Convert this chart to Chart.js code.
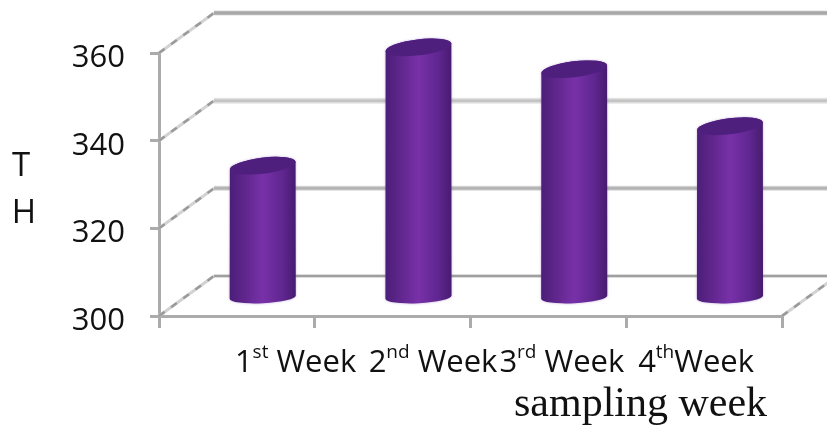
<!DOCTYPE html>
<html>
<head>
<meta charset="utf-8">
<style>
  html, body { margin: 0; padding: 0; background: #fff; }
  #wrap { width: 827px; height: 431px; }
</style>
<script src="https://cdn.jsdelivr.net/npm/chart.js@4"></script>
</head>
<body>
<div id="wrap"><canvas id="c" width="827" height="431"></canvas></div>
<script>
const categories = ['1st Week', '2nd Week', '3rd Week', '4thWeek'];
const thValues = [330, 357, 352, 339];
const yTicks = [300, 320, 340, 360];
const yAxisLetters = ['T', 'H'];
const xAxisTitle = 'sampling week';

// Pseudo-3D box: how far the back wall sits behind the front axes.
const DEPTH_X = 55, DEPTH_Y = -40;
const GRID = '#ababab';
const SANS = '"Open Sans", sans-serif';

const wallPlugin = {
  id: 'wall',
  beforeDatasetsDraw(chart) {
    const { ctx, scales: { y }, chartArea: a } = chart;
    const styles = [
      { core: '#9f9f9f', w: 2.5, halo: '#e4e4e4', hw: 3 },
      { core: '#b4b4b4', w: 3, halo: '#dcdcdc', hw: 5 },
      { core: '#c4c4c4', w: 3, halo: '#e4e4e4', hw: 6 },
      { core: '#a8a8a8', w: 3.5, halo: '#dedede', hw: 5 }
    ];
    const diagonal = (x0, y0) => {
      ctx.beginPath();
      ctx.moveTo(x0, y0);
      ctx.lineTo(x0 + DEPTH_X, y0 + DEPTH_Y);
      ctx.setLineDash([]);
      ctx.lineWidth = 3;
      ctx.strokeStyle = '#d2d2d2';
      ctx.stroke();
      ctx.setLineDash([7, 8]);
      ctx.lineWidth = 2.5;
      ctx.strokeStyle = '#9a9a9a';
      ctx.stroke();
      ctx.setLineDash([]);
    };
    ctx.save();
    yTicks.forEach((v, i) => {
      const py = y.getPixelForValue(v);
      const s = styles[i];
      diagonal(a.left, py);
      // horizontal gridline on the back wall
      ctx.beginPath();
      ctx.moveTo(a.left + DEPTH_X, py + DEPTH_Y);
      ctx.lineTo(chart.width, py + DEPTH_Y);
      ctx.strokeStyle = s.halo;
      ctx.lineWidth = s.hw;
      ctx.stroke();
      ctx.strokeStyle = s.core;
      ctx.lineWidth = s.w;
      ctx.stroke();
    });
    // floor edge on the right
    diagonal(a.right, y.getPixelForValue(yTicks[0]));
    ctx.restore();
  }
};

const cylinderPlugin = {
  id: 'cylinder',
  // Bars sit mid-depth and are painted as tilted cylinders.
  beforeDatasetDraw(chart, args) {
    const { ctx, scales: { y: yScale } } = chart;
    const topTilt = -0.12, baseTilt = -0.05, ry = 8;
    args.meta.data.forEach(bar => {
      const { x, y, width } = bar.getProps(['x', 'y', 'width'], true);
      const cx = x + DEPTH_X * 0.47;
      const top = y + DEPTH_Y * 0.47;
      const bot = yScale.bottom + DEPTH_Y * 0.47;
      const rx = width / 2;
      const left = cx - rx;
      const body = ctx.createLinearGradient(left, 0, left + width, 0);
      body.addColorStop(0, '#4b1e78');
      body.addColorStop(0.18, '#5c2488');
      body.addColorStop(0.5, '#7831a8');
      body.addColorStop(0.8, '#5f2690');
      body.addColorStop(1, '#471b6e');
      ctx.save();
      ctx.shadowColor = 'rgba(130,95,180,0.55)';
      ctx.shadowBlur = 2.5;
      ctx.beginPath();
      ctx.ellipse(cx, bot, rx, ry - 2, baseTilt, 0, Math.PI);
      ctx.ellipse(cx, top, rx, ry, topTilt, Math.PI, Math.PI * 2);
      ctx.closePath();
      ctx.fillStyle = body;
      ctx.fill();
      ctx.shadowColor = 'transparent';
      ctx.beginPath();
      ctx.ellipse(cx, top, rx, ry, topTilt, 0, Math.PI * 2);
      ctx.fillStyle = '#4f1f7e';
      ctx.fill();
      ctx.restore();
    });
    return false;
  }
};

const textPlugin = {
  id: 'texts',
  afterDraw(chart) {
    const { ctx, scales: { x, y } } = chart;
    ctx.save();
    ctx.fillStyle = '#111';
    ctx.textBaseline = 'alphabetic';
    ctx.textAlign = 'left';
    // category labels with raised ordinal suffixes
    const shifts = [-2, -24, -49, -66];
    categories.forEach((label, i) => {
      const m = label.match(/^(\d)(st|nd|rd|th)(.*)$/);
      let px = x.getPixelForTick(i) + shifts[i];
      const base = 372;
      ctx.font = '31px ' + SANS;
      ctx.fillText(m[1], px, base);
      px += ctx.measureText(m[1]).width;
      ctx.font = '19px ' + SANS;
      ctx.fillText(m[2], px, base - 14);
      px += ctx.measureText(m[2]).width;
      ctx.font = '31px ' + SANS;
      ctx.fillText(m[3], px, base);
    });
    // value axis numbers, right-aligned beside the ticks
    ctx.font = '31px ' + SANS;
    ctx.textAlign = 'right';
    yTicks.forEach(v => ctx.fillText(String(v), 125, y.getPixelForValue(v) + 14));
    // stacked letters of the value axis name
    ctx.font = '33px ' + SANS;
    ctx.textAlign = 'center';
    ctx.fillText(yAxisLetters[0], 21, 176);
    ctx.fillText(yAxisLetters[1], 24, 223);
    // axis title in a serif face
    ctx.font = '42px "Liberation Serif", serif';
    ctx.textAlign = 'left';
    ctx.fillText(xAxisTitle, 514, 416);
    ctx.restore();
  }
};

new Chart(document.getElementById('c'), {
  type: 'bar',
  data: {
    labels: categories,
    datasets: [{
      label: 'TH',
      data: thValues,
      backgroundColor: '#7831a8',
      barPercentage: 0.425,
      categoryPercentage: 1
    }]
  },
  options: {
    responsive: false,
    animation: false,
    layout: { padding: { top: 53, right: 45, left: 0, bottom: 0 } },
    plugins: { legend: { display: false }, title: { display: false }, tooltip: { enabled: false } },
    scales: {
      x: {
        grid: { display: true, drawOnChartArea: false, color: GRID, lineWidth: 3, tickLength: 12, offset: true },
        border: { color: GRID, width: 3 },
        ticks: { display: false },
        afterFit(s) { s.height = 115; }
      },
      y: {
        min: yTicks[0],
        max: yTicks[yTicks.length - 1],
        afterBuildTicks(s) { s.ticks = yTicks.map(v => ({ value: v })); },
        grid: { display: true, drawOnChartArea: false, color: GRID, lineWidth: 3, tickLength: 9 },
        border: { color: GRID, width: 3 },
        ticks: { display: false },
        afterFit(s) { s.width = 159; }
      }
    }
  },
  plugins: [wallPlugin, cylinderPlugin, textPlugin]
});
</script>
</body>
</html>
